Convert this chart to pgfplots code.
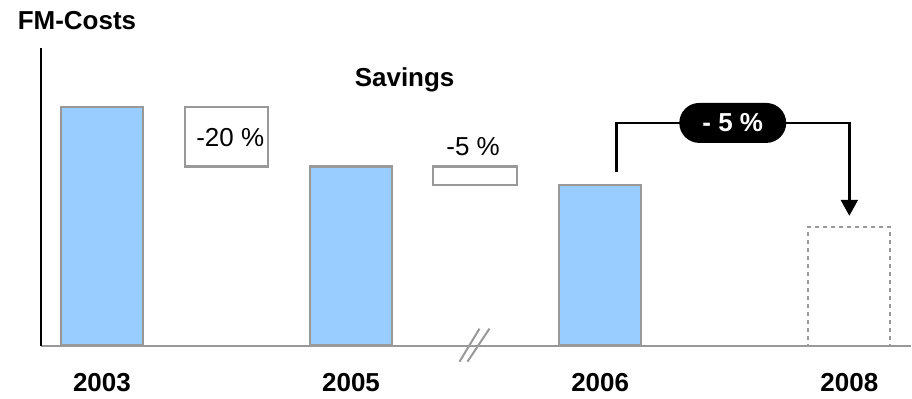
\documentclass[border=0pt]{standalone}
\usepackage{fontspec}
\setmainfont{Liberation Sans}
\usepackage{pgfplots}
\pgfplotsset{compat=1.18}
\usetikzlibrary{arrows.meta}
\definecolor{barblue}{HTML}{99CCFF}
\definecolor{bordergray}{HTML}{999999}
\begin{document}
\begin{tikzpicture}
\begin{axis}[
  scale only axis, width=435.5pt, height=149pt,
  xmin=-0.489, xmax=6.495, ymin=0, ymax=124.7,
  axis x line*=bottom, axis y line*=left,
  x axis line style={bordergray, line width=1pt},
  y axis line style={black, line width=1.2pt},
  ytick=\empty,
  xtick={0,2,4,6}, xticklabels={2003,2005,2006,2008},
  major tick length=0pt,
  xticklabel style={font=\fontsize{13}{15}\selectfont\bfseries, yshift=-10.5pt},
  clip=false,
]
\path (axis cs:-0.818,-21.8) rectangle (axis cs:6.495,144.8);
% main bars
\addplot[ybar, bar width=41pt, bar shift=0pt, fill=barblue, draw=bordergray, line width=1.2pt]
  coordinates {(0,100) (2,75) (4,67.4)};
% target bar 2008
\addplot[ybar, bar width=41pt, bar shift=0pt, fill=none, draw=bordergray, line width=1pt, dash pattern=on 2pt off 2pt]
  coordinates {(6,49.8)};
% savings boxes (floating)
\addplot[fill=white, draw=bordergray, line width=1.2pt]
  coordinates {(0.665,75) (1.331,75) (1.331,100) (0.665,100)} -- cycle;
\addplot[fill=white, draw=bordergray, line width=1.2pt]
  coordinates {(2.66,67.4) (3.33,67.4) (3.33,75) (2.66,75)} -- cycle;
% axis break marks
\addplot[bordergray, line width=1pt] coordinates {(2.871,-6.7) (3.031,7.1)};
\addplot[bordergray, line width=1pt] coordinates {(2.935,-6.7) (3.111,7.1)};
% arrow
\addplot[black, line width=1.2pt, -{Triangle[width=8.5pt,length=8pt]}]
  coordinates {(4.13,72.8) (4.13,93.3) (6,93.3) (6,54.4)};
\node[fill=black, text=white, rounded corners=10pt, minimum width=53.5pt, minimum height=20pt, inner sep=0pt,
  font=\fontsize{13}{15}\selectfont\bfseries] at (axis cs:5.064,93.3) {- 5 \%};
% texts
\node[font=\fontsize{13}{15}\selectfont\bfseries] at (axis cs:2.43,111.3) {Savings};
\node[font=\fontsize{13}{15}\selectfont] at (axis cs:1.03,87) {-20 \%};
\node[font=\fontsize{13}{15}\selectfont] at (axis cs:2.98,83.3) {-5 \%};
\node[font=\fontsize{13}{15}\selectfont\bfseries] at (axis cs:-0.2,136.2) {FM-Costs};
\end{axis}
\end{tikzpicture}
\end{document}
